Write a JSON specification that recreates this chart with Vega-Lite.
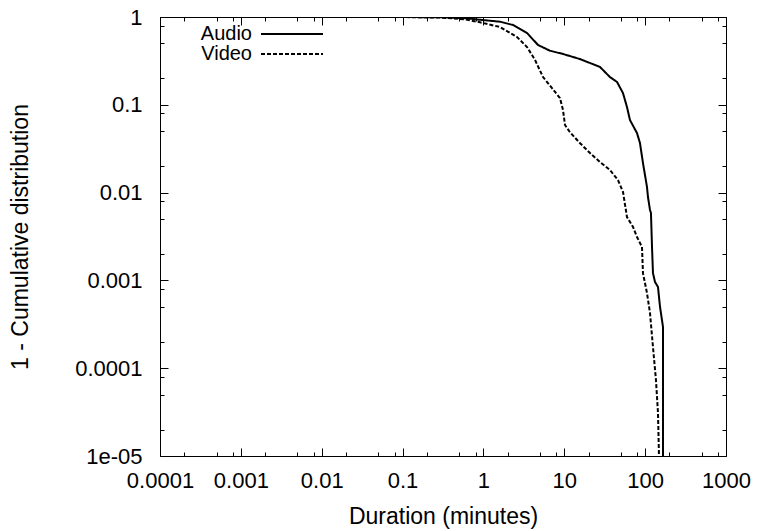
{
  "$schema": "https://vega.github.io/schema/vega-lite/v6.json",
  "width": 566,
  "height": 439,
  "autosize": {"type": "none"},
  "padding": {"left": 160, "top": 17, "right": 31, "bottom": 75},
  "background": "white",
  "config": {
    "font": "Liberation Sans",
    "view": {"stroke": "black", "strokeWidth": 1},
    "axis": {
      "domain": false,
      "grid": false,
      "ticks": true,
      "labelFont": "Liberation Sans",
      "labelFontSize": 22,
      "labelColor": "black",
      "titleFont": "Liberation Sans",
      "titleFontSize": 23,
      "titleFontWeight": "normal",
      "titleColor": "black",
      "tickColor": "black",
      "tickOpacity": 1,
      "tickWidth": 1
    },
    "legend": {
      "labelFont": "Liberation Sans",
      "labelFontSize": 20,
      "labelColor": "black"
    }
  },
  "data": {
    "values": [
      {"series": "Audio", "i": 1, "duration": 0.0001, "p": 1},
      {"series": "Audio", "i": 2, "duration": 0.01, "p": 1},
      {"series": "Audio", "i": 3, "duration": 0.1, "p": 0.999},
      {"series": "Audio", "i": 4, "duration": 0.3, "p": 0.993},
      {"series": "Audio", "i": 5, "duration": 0.6, "p": 0.97},
      {"series": "Audio", "i": 6, "duration": 0.906, "p": 0.93},
      {"series": "Audio", "i": 7, "duration": 1.603, "p": 0.884},
      {"series": "Audio", "i": 8, "duration": 2.32, "p": 0.811},
      {"series": "Audio", "i": 9, "duration": 3.46, "p": 0.657},
      {"series": "Audio", "i": 10, "duration": 4.73, "p": 0.48},
      {"series": "Audio", "i": 11, "duration": 6.65, "p": 0.413},
      {"series": "Audio", "i": 12, "duration": 9.64, "p": 0.379},
      {"series": "Audio", "i": 13, "duration": 15.6, "p": 0.332},
      {"series": "Audio", "i": 14, "duration": 27.6, "p": 0.27},
      {"series": "Audio", "i": 15, "duration": 36.7, "p": 0.207},
      {"series": "Audio", "i": 16, "duration": 44.9, "p": 0.182},
      {"series": "Audio", "i": 17, "duration": 53.2, "p": 0.136},
      {"series": "Audio", "i": 18, "duration": 59.6, "p": 0.0944},
      {"series": "Audio", "i": 19, "duration": 64.9, "p": 0.0671},
      {"series": "Audio", "i": 20, "duration": 79.3, "p": 0.0477},
      {"series": "Audio", "i": 21, "duration": 86.3, "p": 0.0367},
      {"series": "Audio", "i": 22, "duration": 94.0, "p": 0.0217},
      {"series": "Audio", "i": 23, "duration": 105.4, "p": 0.0116},
      {"series": "Audio", "i": 24, "duration": 108.4, "p": 0.00891},
      {"series": "Audio", "i": 25, "duration": 114.8, "p": 0.00634},
      {"series": "Audio", "i": 26, "duration": 118.0, "p": 0.00586},
      {"series": "Audio", "i": 27, "duration": 121.6, "p": 0.0024},
      {"series": "Audio", "i": 28, "duration": 125.0, "p": 0.00121},
      {"series": "Audio", "i": 29, "duration": 132.4, "p": 0.000959},
      {"series": "Audio", "i": 30, "duration": 144.2, "p": 0.000841},
      {"series": "Audio", "i": 31, "duration": 152.8, "p": 0.000498},
      {"series": "Audio", "i": 32, "duration": 166.3, "p": 0.000295},
      {"series": "Audio", "i": 33, "duration": 166.3, "p": 0.00001},
      {"series": "Video", "i": 1, "duration": 0.0001, "p": 1},
      {"series": "Video", "i": 2, "duration": 0.01, "p": 1},
      {"series": "Video", "i": 3, "duration": 0.1, "p": 0.998},
      {"series": "Video", "i": 4, "duration": 0.3, "p": 0.985},
      {"series": "Video", "i": 5, "duration": 0.6, "p": 0.94},
      {"series": "Video", "i": 6, "duration": 0.906, "p": 0.87},
      {"series": "Video", "i": 7, "duration": 1.603, "p": 0.77},
      {"series": "Video", "i": 8, "duration": 2.6, "p": 0.592},
      {"series": "Video", "i": 9, "duration": 3.46, "p": 0.455},
      {"series": "Video", "i": 10, "duration": 4.35, "p": 0.324},
      {"series": "Video", "i": 11, "duration": 5.46, "p": 0.207},
      {"series": "Video", "i": 12, "duration": 7.05, "p": 0.155},
      {"series": "Video", "i": 13, "duration": 8.85, "p": 0.119},
      {"series": "Video", "i": 14, "duration": 9.64, "p": 0.0873},
      {"series": "Video", "i": 15, "duration": 10.2, "p": 0.0589},
      {"series": "Video", "i": 16, "duration": 11.7, "p": 0.049},
      {"series": "Video", "i": 17, "duration": 15.6, "p": 0.0367},
      {"series": "Video", "i": 18, "duration": 20.8, "p": 0.0282},
      {"series": "Video", "i": 19, "duration": 27.6, "p": 0.0223},
      {"series": "Video", "i": 20, "duration": 36.7, "p": 0.0181},
      {"series": "Video", "i": 21, "duration": 46.1, "p": 0.0139},
      {"series": "Video", "i": 22, "duration": 53.2, "p": 0.0102},
      {"series": "Video", "i": 23, "duration": 59.6, "p": 0.00527},
      {"series": "Video", "i": 24, "duration": 70.8, "p": 0.00406},
      {"series": "Video", "i": 25, "duration": 79.3, "p": 0.00312},
      {"series": "Video", "i": 26, "duration": 91.4, "p": 0.0024},
      {"series": "Video", "i": 27, "duration": 94.0, "p": 0.00121},
      {"series": "Video", "i": 28, "duration": 105.4, "p": 0.000718},
      {"series": "Video", "i": 29, "duration": 114.8, "p": 0.000426},
      {"series": "Video", "i": 30, "duration": 125.0, "p": 0.000174},
      {"series": "Video", "i": 31, "duration": 136.1, "p": 0.0000734},
      {"series": "Video", "i": 32, "duration": 144.2, "p": 0.0000309},
      {"series": "Video", "i": 33, "duration": 148.3, "p": 0.00001}
    ]
  },
  "layer": [
    {
      "mark": {"type": "line", "strokeWidth": 2, "color": "black", "clip": true},
      "encoding": {
        "x": {
          "field": "duration",
          "type": "quantitative",
          "scale": {"type": "log", "domain": [0.0001, 1000]},
          "axis": {
            "orient": "bottom",
            "offset": -8,
            "tickSize": 8,
            "values": [0.0001, 0.001, 0.01, 0.1, 1, 10, 100, 1000],
            "labelExpr": "format(datum.value, '~f')",
            "labelPadding": 14,
            "labelFlush": false,
            "labelOverlap": false,
            "title": "Duration (minutes)",
            "titleX": 283,
            "titleY": 68,
            "titleBaseline": "middle",
            "titleAlign": "center"
          }
        },
        "y": {
          "field": "p",
          "type": "quantitative",
          "scale": {"type": "log", "domain": [0.00001, 1]},
          "axis": {
            "orient": "left",
            "offset": -8,
            "tickSize": 8,
            "values": [0.00001, 0.0001, 0.001, 0.01, 0.1, 1],
            "labelExpr": "datum.value < 0.000015 ? '1e-05' : format(datum.value, '~f')",
            "labelPadding": 18,
            "labelFlush": false,
            "labelOverlap": false,
            "title": "1 - Cumulative distribution",
            "titleX": -148,
            "titleY": 219.5,
            "titleAngle": 270,
            "titleBaseline": "middle",
            "titleAlign": "center"
          }
        },
        "strokeDash": {
          "field": "series",
          "type": "nominal",
          "scale": {"domain": ["Audio", "Video"], "range": [[1, 0], [4, 2]]},
          "legend": {
            "title": null,
            "orient": "none",
            "legendX": 99,
            "legendY": 7,
            "padding": 0,
            "symbolType": "M-1,0L6.75,0",
            "symbolSize": 256,
            "symbolStrokeWidth": 2,
            "symbolStrokeColor": "black",
            "rowPadding": 0,
            "labelAlign": "right",
            "labelOffset": -27
          }
        },
        "order": {"field": "i", "type": "quantitative"}
      }
    },
    {
      "mark": {"type": "line", "opacity": 0},
      "encoding": {
        "x": {
          "field": "duration",
          "type": "quantitative",
          "axis": {
            "orient": "bottom",
            "offset": -4,
            "tickSize": 4,
            "values": [0.0002, 0.0005, 0.0008, 0.002, 0.005, 0.008, 0.02, 0.05, 0.08, 0.2, 0.5, 0.8, 2, 5, 8, 20, 50, 80, 200, 500, 800],
            "labels": false,
            "title": null
          }
        },
        "y": {
          "field": "p",
          "type": "quantitative",
          "axis": {
            "orient": "left",
            "offset": -4,
            "tickSize": 4,
            "values": [0.00002, 0.00005, 0.00008, 0.0002, 0.0005, 0.0008, 0.002, 0.005, 0.008, 0.02, 0.05, 0.08, 0.2, 0.5, 0.8],
            "labels": false,
            "title": null
          }
        },
        "detail": {"field": "series", "type": "nominal"},
        "order": {"field": "i", "type": "quantitative"}
      }
    },
    {
      "mark": {"type": "line", "opacity": 0},
      "encoding": {
        "x": {
          "field": "duration",
          "type": "quantitative",
          "axis": {
            "orient": "top",
            "offset": -8,
            "tickSize": 8,
            "values": [0.0001, 0.001, 0.01, 0.1, 1, 10, 100, 1000],
            "labels": false,
            "title": null
          }
        },
        "y": {
          "field": "p",
          "type": "quantitative",
          "axis": {
            "orient": "right",
            "offset": -8,
            "tickSize": 8,
            "values": [0.00001, 0.0001, 0.001, 0.01, 0.1, 1],
            "labels": false,
            "title": null
          }
        },
        "detail": {"field": "series", "type": "nominal"},
        "order": {"field": "i", "type": "quantitative"}
      }
    },
    {
      "mark": {"type": "line", "opacity": 0},
      "encoding": {
        "x": {
          "field": "duration",
          "type": "quantitative",
          "axis": {
            "orient": "top",
            "offset": -4,
            "tickSize": 4,
            "values": [0.0002, 0.0005, 0.0008, 0.002, 0.005, 0.008, 0.02, 0.05, 0.08, 0.2, 0.5, 0.8, 2, 5, 8, 20, 50, 80, 200, 500, 800],
            "labels": false,
            "title": null
          }
        },
        "y": {
          "field": "p",
          "type": "quantitative",
          "axis": {
            "orient": "right",
            "offset": -4,
            "tickSize": 4,
            "values": [0.00002, 0.00005, 0.00008, 0.0002, 0.0005, 0.0008, 0.002, 0.005, 0.008, 0.02, 0.05, 0.08, 0.2, 0.5, 0.8],
            "labels": false,
            "title": null
          }
        },
        "detail": {"field": "series", "type": "nominal"},
        "order": {"field": "i", "type": "quantitative"}
      }
    }
  ],
  "resolve": {"axis": {"x": "independent", "y": "independent"}}
}
